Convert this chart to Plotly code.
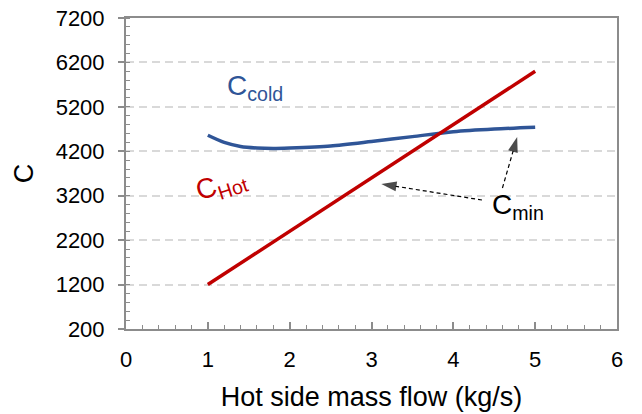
import plotly.graph_objects as go

# Data
mass_flow = [1.0, 5.0]
c_hot = [1200, 6000]

cold_x = [1.0, 1.2, 1.4, 1.6, 1.8, 2.0, 2.5, 3.0, 3.5, 4.0, 4.5, 5.0]
c_cold = [4560, 4400, 4310, 4275, 4265, 4275, 4320, 4420, 4530, 4640, 4700, 4740]

y_ticks = [200, 1200, 2200, 3200, 4200, 5200, 6200, 7200]
x_ticks = [0, 1, 2, 3, 4, 5, 6]

# annotation arrows (tail -> tip), data coordinates
arrow1_x = [4.35, 3.12]
arrow1_y = [3103, 3464]
arrow2_x = [4.60, 4.78]
arrow2_y = [3374, 4521]

FONT = "Liberation Sans, Arial, sans-serif"
RED = "#C00000"
BLUE = "#2F5597"
AXIS = "#8C8C8C"

fig = go.Figure()
fig.add_trace(go.Scatter(x=cold_x, y=c_cold, mode="lines",
                         line=dict(color=BLUE, width=3.5, shape="spline", smoothing=0.8),
                         showlegend=False, hoverinfo="skip"))
fig.add_trace(go.Scatter(x=mass_flow, y=c_hot, mode="lines",
                         line=dict(color=RED, width=3.5),
                         showlegend=False, hoverinfo="skip"))

for ax_, ay_ in [(arrow1_x, arrow1_y), (arrow2_x, arrow2_y)]:
    fig.add_trace(go.Scatter(x=ax_, y=ay_, mode="lines+markers",
                             line=dict(color="black", width=1.2, dash="4px,3px"),
                             marker=dict(symbol="arrow", size=[0, 16], color="black",
                                         angleref="previous", line=dict(width=0)),
                             showlegend=False, hoverinfo="skip"))

fig.add_annotation(x=1.58, y=5630, text="C<sub>cold</sub>", showarrow=False,
                   font=dict(family=FONT, size=28, color=BLUE))
fig.add_annotation(x=1.17, y=3420, text="C<sub>Hot</sub>", showarrow=False, textangle=-18,
                   font=dict(family=FONT, size=28, color=RED))
fig.add_annotation(x=4.79, y=2950, text="C<sub>min</sub>", showarrow=False,
                   font=dict(family=FONT, size=28, color="black"))

fig.update_layout(
    width=642, height=414,
    margin=dict(l=118, r=33, t=10, b=93, autoexpand=False),
    paper_bgcolor="white", plot_bgcolor="white",
    font=dict(family=FONT, size=22, color="black"),
    xaxis=dict(range=[0, 6], tickvals=x_ticks, showgrid=False, zeroline=False,
               showline=True, linecolor=AXIS, linewidth=2, mirror=True,
               ticks="inside", ticklen=7, tickcolor=AXIS, tickwidth=1.5,
               minor=dict(dtick=0.2, ticks="inside", ticklen=4, tickcolor=AXIS, tickwidth=1.2),
               ticklabelstandoff=10, automargin=False,
               title=dict(text="Hot side mass flow (kg/s)", font=dict(size=27), standoff=16),
               tickfont=dict(size=22)),
    yaxis=dict(range=[200, 7200], tickvals=y_ticks, showgrid=True, gridcolor="#D9D9D9",
               griddash="8px,5px", gridwidth=1.5, zeroline=False,
               showline=True, linecolor=AXIS, linewidth=2, mirror=True,
               ticks="outside", ticklen=6, tickcolor=AXIS, tickwidth=1.5,
               minor=dict(dtick=200, ticks="inside", ticklen=4, tickcolor=AXIS, tickwidth=1.2),
               ticklabelstandoff=9, ticklabeloverflow="allow", automargin=False,
               title=dict(text="C", font=dict(size=27), standoff=14),
               tickfont=dict(size=22)),
)

fig.write_html("out.html")
